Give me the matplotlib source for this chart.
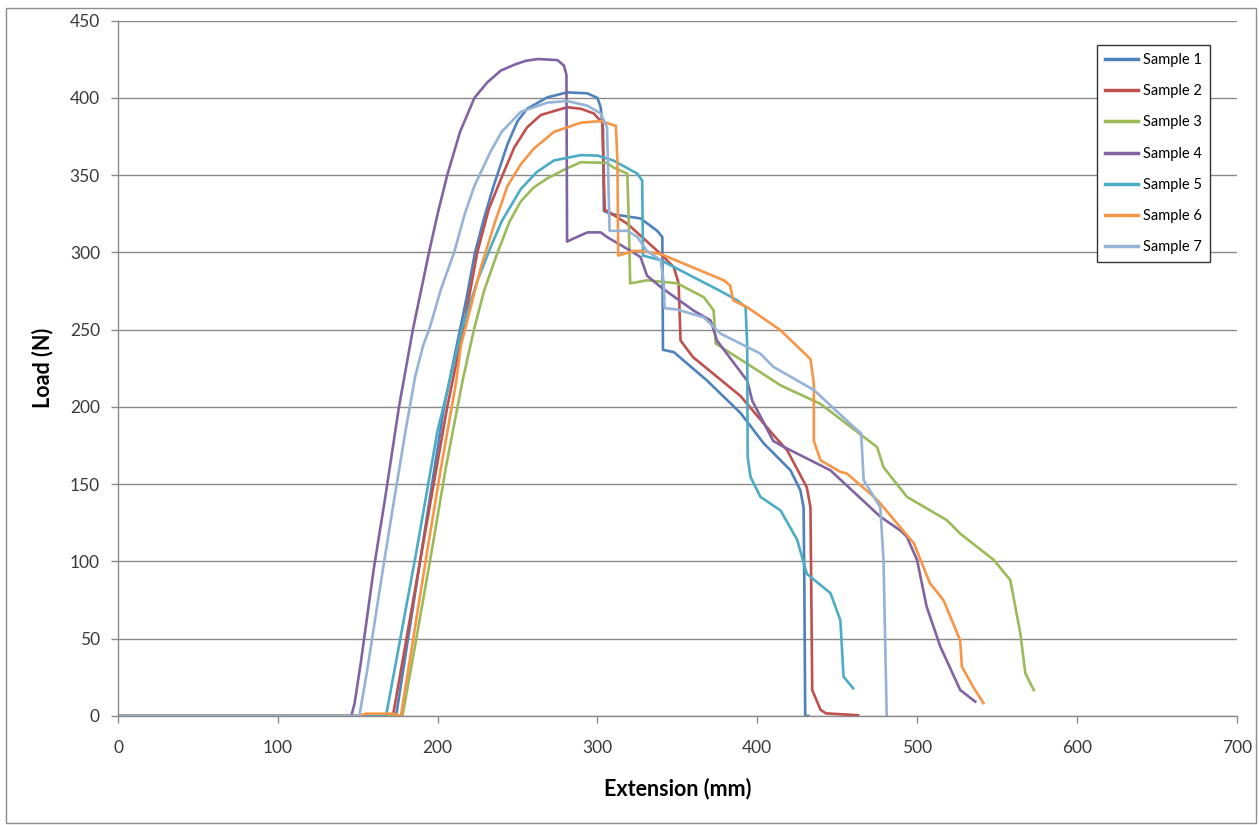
import matplotlib
matplotlib.use("Agg")
import matplotlib.pyplot as plt
from matplotlib.patches import Rectangle

# ---------------- data ----------------
s1_x = [0, 174, 189, 204, 212, 218, 223.4, 229, 235, 243.7, 250, 256, 268.7, 281, 293.7, 300, 302, 303.5, 304, 308, 327, 337.4, 340.6, 341, 347.8, 368.7, 389.6, 404, 420.8, 427, 429, 429.5, 430, 432]
s1_y = [0, 0, 100, 200, 240, 270, 300, 322, 343, 370, 385, 393, 400.4, 403.6, 403, 400, 394, 380, 327, 325, 322, 314, 310, 237, 235.5, 217, 196, 176.5, 159, 146, 135, 80, 0, 0]

s2_x = [0, 172, 189, 206, 215, 224.8, 232, 240.6, 248, 256, 264.6, 281, 289.6, 297.7, 303, 304.6, 306, 318.7, 339.6, 347.8, 350.8, 352, 360, 362.5, 389.6, 410, 418.7, 431, 433.3, 434.4, 439.6, 443, 463]
s2_y = [0, 0, 100, 200, 245, 300, 328, 350, 368, 381, 389, 394, 393, 390, 384, 327, 327, 318.6, 299, 290.5, 280, 243, 232, 230, 207, 182, 172, 148, 135, 16.8, 4, 1.7, 0.5]

s3_x = [0, 178, 187, 196, 205, 215.6, 222.7, 229, 237.5, 245, 252, 260, 268.7, 280, 289.6, 306, 310, 318.7, 319.6, 320.5, 331, 350, 366.6, 372.7, 374, 393.7, 414.6, 439.6, 475, 479, 493.7, 518.7, 527, 548, 558.3, 564.6, 567.7, 573]
s3_y = [0, 0, 52, 105, 160, 217, 250, 275, 300, 320, 333, 342, 348, 354, 358.4, 358, 355, 351, 320, 280, 282, 280, 271, 262.5, 241, 228, 214, 202, 174, 161, 141.8, 126.7, 118, 101, 88, 53.6, 27.8, 16.8]

s4_x = [0, 146, 148, 152, 160, 167, 175.8, 184.5, 194.6, 200, 206, 214, 223, 231, 239.5, 248, 255, 262.7, 275, 279, 280.6, 281, 285, 293.7, 302, 306, 320.8, 327, 331, 339.6, 360, 370.8, 374.8, 393.7, 396.9, 410, 416, 445.8, 477, 489.6, 493.6, 500, 506, 514.6, 527, 536.4]
s4_y = [0, 0, 8, 35, 95, 140, 200, 250, 300, 325, 350, 378, 400, 410, 417.7, 421.5, 424, 425.2, 424.5, 421, 415, 307, 309, 313, 313, 310, 301, 297, 285, 277.6, 262.5, 256, 243, 217, 204, 178, 174.5, 159, 129, 120, 116, 101, 70.7, 44.8, 16.8, 9.3]

s5_x = [0, 167.7, 187, 200, 206, 215, 225, 233, 240, 252, 262, 272.7, 289.6, 300, 310, 325, 328, 328.5, 339.6, 377, 387.5, 392.7, 393.7, 394, 395.8, 402, 414.6, 425, 431, 445.8, 452, 454, 460]
s5_y = [0, 0, 108, 185, 210, 250, 282, 303, 320, 341, 352, 359.5, 363, 362.7, 359.5, 351, 346.5, 298, 295, 275, 269, 264.6, 240, 167.5, 154.7, 141.8, 133, 114, 92, 79.5, 62, 25.4, 18]

s6_x = [0, 150, 155, 172, 177, 194, 202, 211.4, 214.6, 227, 236, 243.7, 252, 260, 272.7, 289.6, 302, 311.5, 312.5, 313, 322.7, 327, 339.6, 379, 383, 385, 393.7, 414.6, 433.3, 435.4, 435.4, 439.6, 452, 456, 473, 477, 489.6, 498, 508, 516.5, 527, 528, 535, 541.5]
s6_y = [0, 0, 1.5, 1.5, 0, 110, 160, 215, 240, 290, 320, 343, 357, 367, 378, 384, 385, 382, 360, 298, 301, 301, 299, 282, 278.7, 269, 264.6, 249.6, 231, 215, 178, 165.5, 158, 157, 141.8, 137.6, 122, 111.8, 86, 75, 49, 32, 19, 8.4]

s7_x = [0, 151, 156, 165, 172, 180, 186, 191, 195, 202, 210.3, 217, 223, 233, 240, 252, 268.7, 281, 293.7, 302, 306, 307.6, 318.7, 325, 331, 339.6, 341.5, 342, 350, 366.6, 377, 402, 410, 435.4, 462.5, 465, 466.6, 477, 479, 481]
s7_y = [0, 0, 30, 90, 135, 185, 220, 240, 251, 276, 300, 325, 343, 365, 378, 391, 397, 398, 395, 390, 381, 314, 314, 310, 301, 295, 280, 264, 263, 258, 247.5, 234.5, 226, 211, 185, 183, 152.6, 135, 101, 0]

series_names = ["Sample 1", "Sample 2", "Sample 3", "Sample 4", "Sample 5", "Sample 6", "Sample 7"]
series_x = [s1_x, s2_x, s3_x, s4_x, s5_x, s6_x, s7_x]
series_y = [s1_y, s2_y, s3_y, s4_y, s5_y, s6_y, s7_y]
colors = ["#4F81BD", "#C0504D", "#9BBB59", "#8064A2", "#4BACC6", "#F79646", "#95B3D7"]

x_ticks = [0, 100, 200, 300, 400, 500, 600, 700]
y_ticks = [0, 50, 100, 150, 200, 250, 300, 350, 400, 450]

# ---------------- figure ----------------
plt.rcParams['font.family'] = ['Lato', 'DejaVu Sans']
W, H = 1259, 825
fig = plt.figure(figsize=(W / 100, H / 100), dpi=100)
fig.patch.set_facecolor("white")

# outer chart border
fig.patches.append(Rectangle((6 / W, 1 - 823 / H), (1256 - 6) / W, (823 - 8) / H,
                             transform=fig.transFigure, fill=False,
                             edgecolor="#8c8c8c", linewidth=1.0))

left, right, top, bottom = 118, 1236.7, 20.7, 716
ax = fig.add_axes([left / W, 1 - bottom / H, (right - left) / W, (bottom - top) / H])

for xs, ys, c, n in zip(series_x, series_y, colors, series_names):
    ax.plot(xs, ys, color=c, linewidth=1.9, label=n, solid_joinstyle="round")

ax.set_xlim(0, 700)
ax.set_ylim(0, 450)
ax.set_xticks(x_ticks)
ax.set_yticks(y_ticks)
ax.yaxis.grid(True, color="#8a8a8a", linewidth=1.0)
ax.set_axisbelow(True)
for s in ["top", "right"]:
    ax.spines[s].set_visible(False)
for s in ["left", "bottom"]:
    ax.spines[s].set_color("#8a8a8a")
    ax.spines[s].set_linewidth(1.0)
ax.tick_params(axis="both", direction="out", length=5, width=1.0, color="#8a8a8a",
               labelsize=12.5, labelcolor="#3a3a3a")
ax.tick_params(axis="x", pad=12)
ax.tick_params(axis="y", pad=8)

ax.set_xlabel("Extension (mm)", fontsize=15.5, fontweight="bold", labelpad=16)
ax.set_ylabel("Load (N)", fontsize=15.5, fontweight="bold", labelpad=12)

leg = ax.legend(loc="upper left", bbox_to_anchor=(0.875, 0.965), borderaxespad=0,
                fontsize=10.5, handlelength=2.3, handletextpad=0.3, labelspacing=1.18,
                borderpad=0.55, fancybox=False, framealpha=1, edgecolor="#333333")
leg.get_frame().set_linewidth(1.0)
for lh in leg.get_lines():
    lh.set_linewidth(2.5)

fig.savefig("out.png", dpi=100, facecolor="white")
